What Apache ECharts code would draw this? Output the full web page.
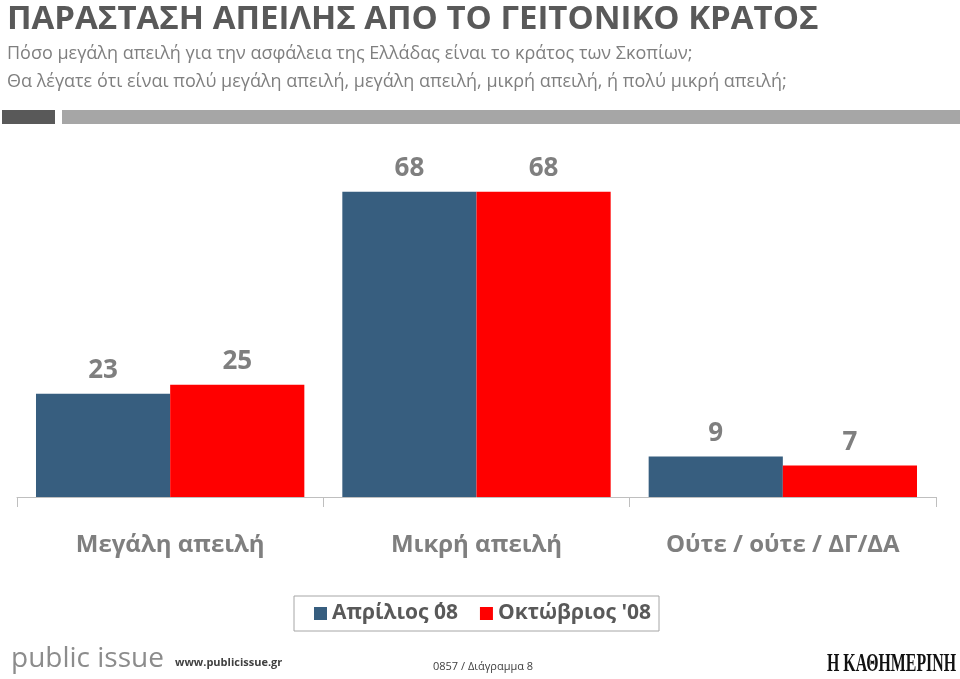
<!DOCTYPE html>
<html>
<head>
<meta charset="utf-8">
<script src="https://cdn.jsdelivr.net/npm/echarts@6/dist/echarts.min.js"></script>
<style>
html, body { margin: 0; padding: 0; background: #fff; }
#chart { width: 960px; height: 679px; }
</style>
</head>
<body>
<div id="chart"></div>
<script>
// data
var categories = ['Μεγάλη απειλή', 'Μικρή απειλή', 'Ούτε / ούτε / ΔΓ/ΔΑ'];
var seriesNames = ['Απρίλιος ΄08', 'Οκτώβριος \'08'];
var april08 = [23, 68, 9];
var october08 = [25, 68, 7];

var FONT = '"Open Sans", "Noto Sans", sans-serif';
var chart = echarts.init(document.getElementById('chart'), null, { renderer: 'canvas' });

chart.setOption({
    backgroundColor: '#fff',
    animation: false,
    title: {
        text: 'ΠΑΡΑΣΤΑΣΗ ΑΠΕΙΛΗΣ ΑΠΟ ΤΟ ΓΕΙΤΟΝΙΚΟ ΚΡΑΤΟΣ',
        subtext: 'Πόσο μεγάλη απειλή για την ασφάλεια της Ελλάδας είναι το κράτος των Σκοπίων;\nΘα λέγατε ότι είναι πολύ μεγάλη απειλή, μεγάλη απειλή, μικρή απειλή, ή πολύ μικρή απειλή;',
        left: 2,
        top: -2,
        itemGap: 4,
        textStyle: { fontFamily: FONT, fontSize: 33, fontWeight: 'bold', color: '#595959' },
        subtextStyle: { fontFamily: FONT, fontSize: 18, color: '#7f7f7f', lineHeight: 28 }
    },
    legend: {
        data: seriesNames,
        left: 294,
        top: 596,
        itemWidth: 13,
        itemHeight: 13,
        itemGap: 22,
        padding: [7, 8, 7, 20],
        borderColor: '#a6a6a6',
        borderWidth: 1,
        icon: 'rect',
        textStyle: { fontFamily: FONT, fontSize: 21, fontWeight: 'bold', color: '#595959' }
    },
    grid: { left: 17, right: 24, top: 138, bottom: 182 },
    xAxis: {
        type: 'category',
        data: categories,
        axisLine: { lineStyle: { color: '#bfbfbf', width: 1 } },
        axisTick: { show: true, length: 10, lineStyle: { color: '#bfbfbf' } },
        axisLabel: {
            margin: 36,
            fontFamily: FONT,
            fontSize: 24,
            fontWeight: 'bold',
            color: '#7f7f7f'
        }
    },
    yAxis: {
        type: 'value',
        min: 0,
        max: 80,
        show: false,
        splitLine: { show: false }
    },
    series: [{
        name: seriesNames[0],
        type: 'bar',
        data: april08,
        barGap: '0%',
        barCategoryGap: '12.4%',
        itemStyle: { color: '#375e7f' },
        label: {
            show: true,
            position: 'top',
            distance: 10,
            fontFamily: FONT,
            fontSize: 26,
            fontWeight: 'bold',
            color: '#7f7f7f'
        }
    }, {
        name: seriesNames[1],
        type: 'bar',
        data: october08,
        barGap: '0%',
        barCategoryGap: '12.4%',
        itemStyle: { color: '#ff0000' },
        label: {
            show: true,
            position: 'top',
            distance: 10,
            fontFamily: FONT,
            fontSize: 26,
            fontWeight: 'bold',
            color: '#7f7f7f'
        }
    }],
    graphic: [
        // header strips
        { type: 'rect', left: 2, top: 110, shape: { width: 53, height: 14 }, style: { fill: '#595959' } },
        { type: 'rect', left: 62, top: 110, shape: { width: 898, height: 14 }, style: { fill: '#a6a6a6' } },
        // footer
        { type: 'text', left: 11, top: 645, style: { text: 'public issue', fontFamily: FONT, fontSize: 28, fill: '#8c8c8c' } },
        { type: 'text', left: 175, top: 657, style: { text: 'www.publicissue.gr', fontFamily: FONT, fontSize: 11, fontWeight: 'bold', fill: '#404040' } },
        { type: 'text', left: 433, top: 661, style: { text: '0857 / Διάγραμμα 8', fontFamily: FONT, fontSize: 11, fill: '#404040' } },
        { type: 'text', x: 827, y: 651, scaleX: 0.61, style: { text: 'Η ΚΑΘΗΜΕΡΙΝΗ', fontFamily: '"Liberation Serif", "DejaVu Serif", serif', fontSize: 26, fontWeight: 'bold', fill: '#111' } }
    ]
});
</script>
</body>
</html>
